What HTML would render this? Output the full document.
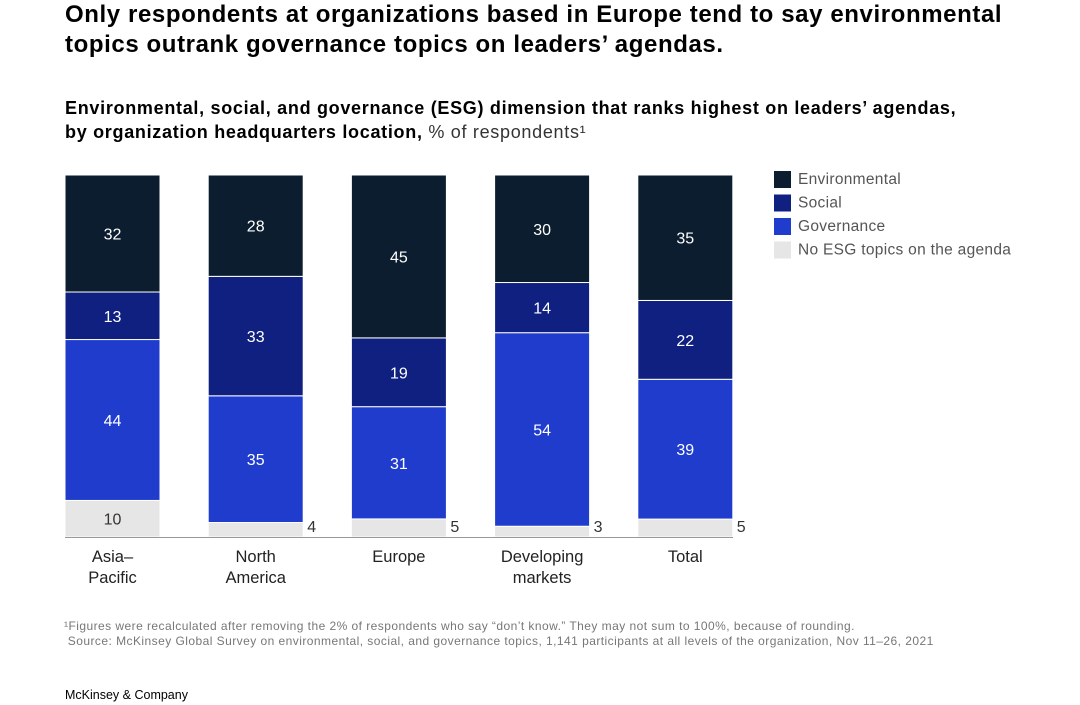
<!DOCTYPE html>
<html><head><meta charset="utf-8"><style>
body{margin:0;background:#fff;width:1080px;height:705px;overflow:hidden;font-family:"Liberation Sans",sans-serif;position:relative}
.t{position:absolute;left:65px;top:0px;font-size:24px;font-weight:bold;color:#000;line-height:30px;letter-spacing:0.6px}
.s{position:absolute;left:65px;top:96px;font-size:18px;font-weight:bold;color:#000;line-height:24px;letter-spacing:0.7px}
.s span{font-weight:normal;color:#333}
.f{position:absolute;left:64px;top:619px;font-size:12px;color:#777;line-height:15px;letter-spacing:0.45px}
.b{position:absolute;left:65px;top:688px;font-size:12.5px;color:#000}
</style></head><body>
<div class="t">Only respondents at organizations based in Europe tend to say environmental<br>topics outrank governance topics on leaders’ agendas.</div>
<div class="s">Environmental, social, and governance (ESG) dimension that ranks highest on leaders’ agendas,<br>by organization headquarters location, <span>% of respondents¹</span></div>
<svg id="c" width="1080" height="705" style="position:absolute;left:0;top:0"></svg>
<div class="f">¹Figures were recalculated after removing the 2% of respondents who say “don’t know.” They may not sum to 100%, because of rounding.<br>&nbsp;Source: McKinsey Global Survey on environmental, social, and governance topics, 1,141 participants at all levels of the organization, Nov 11–26, 2021</div>
<div class="b">McKinsey &amp; Company</div>
<script>
const categories=[["Asia–","Pacific"],["North","America"],["Europe"],["Developing","markets"],["Total"]];
const none=[10,4,5,3,5];
const governance=[44,35,31,54,39];
const social=[13,33,19,14,22];
const environmental=[32,28,45,30,35];
const seriesNames=["Environmental","Social","Governance","No ESG topics on the agenda"];
const colors=["#0b1d2e","#0f2080","#1f3ccc","#e6e6e6"];
const NS="http://www.w3.org/2000/svg";
const svg=document.getElementById('c');
const base=537,fullH=362,barW=95;
const xPos=i=>65+i*143.2;
function mk(t,a){const e=document.createElementNS(NS,t);for(const k in a)e.setAttribute(k,a[k]);svg.appendChild(e);return e;}
const stack=[none,governance,social,environmental];
const colIdx=[3,2,1,0];
const segNames=['none','governance','social','environmental'];
categories.forEach((cat,i)=>{
  const total=none[i]+governance[i]+social[i]+environmental[i];
  let y=base;
  stack.forEach((arr,s)=>{
    const h=arr[i]/total*fullH;y-=h;
    const r=mk('rect',{x:xPos(i),y:y,width:barW,height:h,fill:colors[colIdx[s]],stroke:'#fff','stroke-width':1});
    
    
    let tx,ty,anchor='middle',fill=s===0?'#333':'#fff';
    if(s===0&&arr[i]<8){tx=xPos(i)+barW+4;ty=base-5;anchor='start';}
    else{tx=xPos(i)+barW/2;ty=y+h/2+6;}
    const t=mk('text',{x:tx,y:ty,'text-anchor':anchor,'font-size':16,fill:fill,'font-family':'Liberation Sans, sans-serif'});
    t.textContent=arr[i];
    
    
  });
  cat.forEach((l,j)=>{
    const t=mk('text',{x:xPos(i)+barW/2,y:562+j*21,'text-anchor':'middle','font-size':16.5,fill:'#222','font-family':'Liberation Sans, sans-serif'});
    t.textContent=l;
    
    
  });
});
const ax=mk('line',{x1:65,x2:733,y1:base+0.5,y2:base+0.5,stroke:'#999','stroke-width':1});


seriesNames.forEach((n,k)=>{
  const r=mk('rect',{x:774,y:171+k*23.5,width:17,height:17,fill:colors[k]});
  
  
  const t=mk('text',{x:798,y:184+k*23.5,'font-size':15.5,fill:'#555','letter-spacing':'0.3','font-family':'Liberation Sans, sans-serif'});
  t.textContent=n;
  
  
});
</script>
</body></html>
